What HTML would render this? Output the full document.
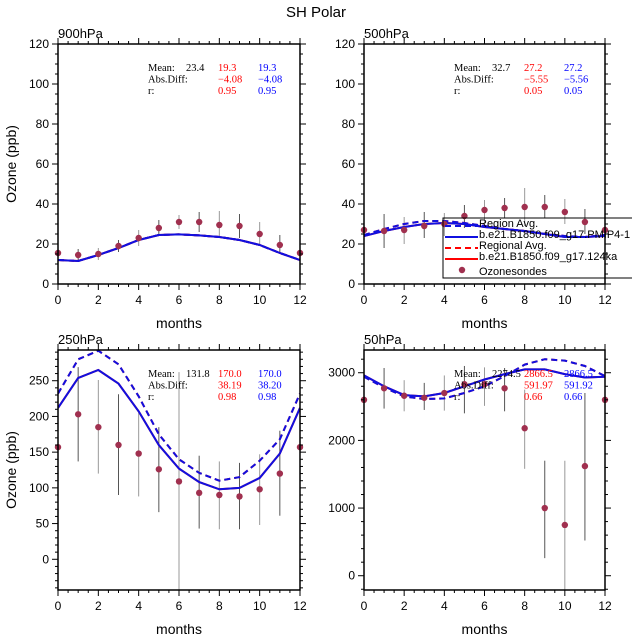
<!DOCTYPE html>
<html><head><meta charset="utf-8">
<style>
html,body{margin:0;padding:0;background:#fff;}
svg{display:block;font-family:"Liberation Sans",sans-serif;}
</style></head>
<body>
<svg id="chart" width="632" height="638" viewBox="0 0 632 638" xmlns="http://www.w3.org/2000/svg">
<text x="316" y="17" text-anchor="middle" font-size="15">SH Polar</text>
</svg>
<script>
const months = [0,1,2,3,4,5,6,7,8,9,10,11,12];
// 900hPa
const obs900 = [15.5,14.5,15,19,23,28,31,31,29.5,29,25,19.5,15.5];
const lo900 = [null,12,12,16,19,24,27.5,26,24,23,19.5,15,null];
const hi900 = [null,17.5,18,22,27,32,34.5,36,36.5,35,31,24.5,null];
const solid900 = [12,11.5,14.5,18,22,24.5,24.8,24.3,23.5,22,19.5,15.5,12];
const dash900 = [12,11.5,14.5,18,22,24.5,24.8,24.3,23.5,22,19.5,15.5,12];
// 500hPa
const obs500 = [27,26.5,27,29,30,34,37,38,38.5,38.5,36,31,27];
const lo500 = [null,18,20,23,24,28,30.5,33,29,33,30,25,null];
const hi500 = [null,35,33.5,36,35.5,39.5,42,43,48,44.5,42.5,37.5,null];
const solid500 = [24,26.5,28.5,30,30.5,30,28.5,27.5,26.5,25,23.5,23.5,24];
const dash500 = [24.5,27.5,30,31.5,31.5,30.5,29,27.5,26.5,25,24,23.5,24.5];
// 250hPa
const obs250 = [157,203,185,160,148,126,109,93,90,88,98,120,157];
const lo250 = [null,137,120,90,88,66,-43,43,42,42,48,61,null];
const hi250 = [null,269,251,231,205,185,262,145,137,135,147,180,null];
const solid250 = [212,254,265,246,207,160,127,108,98,100,114,148,212];
const dash250 = [232,280,292,273,228,175,140,121,110,115,138,168,232];
// 50hPa
const obs50 = [2600,2770,2660,2630,2700,2830,2830,2770,2180,1000,750,1620,2600];
const lo50 = [null,2470,2430,2450,2440,2400,2510,2430,1580,260,-211,520,null];
const hi50 = [null,3070,2890,2850,2960,3100,3080,3070,2750,1700,1700,2700,null];
const solid50 = [2960,2800,2670,2650,2700,2800,2900,2980,3050,3050,2980,2930,2940];
const dash50 = [2940,2780,2650,2610,2620,2700,2800,2950,3120,3200,3180,3100,2950];
const xTicks = [0,2,4,6,8,10,12];
const yTicksTop = [0,20,40,60,80,100,120];
const yTicks250 = [0,50,100,150,200,250];
const yTicks50 = [0,1000,2000,3000];
const stats900 = ["23.4","19.3","19.3","\u22124.08","\u22124.08","0.95","0.95"];
const stats500 = ["32.7","27.2","27.2","\u22125.55","\u22125.56","0.05","0.05"];
const stats250 = ["131.8","170.0","170.0","38.19","38.20","0.98","0.98"];
const stats50 = ["2274.5","2866.5","2866.5","591.97","591.92","0.66","0.66"];

const NS="http://www.w3.org/2000/svg";
const svg=document.getElementById('chart');
function mk(tag,attrs,parent){const e=document.createElementNS(NS,tag);for(const k in attrs)e.setAttribute(k,attrs[k]);(parent||svg).appendChild(e);return e;}
function path(arr,sx,sy){return arr.map((v,i)=>(i?'L':'M')+sx(months[i]).toFixed(1)+','+sy(v).toFixed(1)).join(' ');}

function panel(o){
  const g=mk('g',{});
  
  
  const sx=v=>o.x0+(v-0)/12*(o.x1-o.x0);
  const sy=v=>o.y1-(v-o.ymin)/(o.ymax-o.ymin)*(o.y1-o.y0);
  const clip='clip-'+o.name;
  const cp=mk('clipPath',{id:clip},g);mk('rect',{x:o.x0,y:o.y0,width:o.x1-o.x0,height:o.y1-o.y0},cp);
  const eg=mk('g',{'clip-path':'url(#'+clip+')'},g);
  
  
  o.lo.forEach((l,i)=>{if(l===null)return;
    const b=mk('line',{x1:sx(months[i]),x2:sx(months[i]),y1:sy(l),y2:sy(o.hi[i]),stroke:(i%2?'#555':'#999'),'stroke-width':1},eg);
    
    
  });
  const lg=mk('g',{'clip-path':'url(#'+clip+')'},g);
  const r1=mk('path',{d:path(o.dash,sx,sy),fill:'none',stroke:'#ff0000','stroke-width':2,'stroke-dasharray':'6,4'},lg);
  
  
  const r2=mk('path',{d:path(o.solid,sx,sy),fill:'none',stroke:'#ff0000','stroke-width':2},lg);
  
  
  const b1=mk('path',{d:path(o.dash,sx,sy),fill:'none',stroke:'#1010e0','stroke-width':2,'stroke-dasharray':'6,4'},lg);
  
  
  const b2=mk('path',{d:path(o.solid,sx,sy),fill:'none',stroke:'#1010e0','stroke-width':2},lg);
  
  
  o.obs.forEach((v,i)=>{
    const c=mk('circle',{cx:sx(months[i]),cy:sy(v),r:3.2,fill:'#a0304f'},g);
    
    
  });
  const fr=mk('rect',{x:o.x0,y:o.y0,width:o.x1-o.x0,height:o.y1-o.y0,fill:'none',stroke:'#000','stroke-width':1.5},g);
  
  
  for(let m=0;m<=12;m+=0.5){const maj=(m%2===0);const L=maj?6:3;const X=sx(m);
    mk('line',{x1:X,x2:X,y1:o.y1,y2:o.y1+L,stroke:'#000'},g);
    mk('line',{x1:X,x2:X,y1:o.y0,y2:o.y0-L,stroke:'#000'},g);}
  xTicks.forEach(t=>{const tx=mk('text',{x:sx(t),y:o.y1+20,'text-anchor':'middle','font-size':12},g);tx.textContent=t;
    
    });
  for(let v=Math.ceil(o.ymin/o.minor)*o.minor;v<=o.ymax;v+=o.minor){const maj=(Math.round(v/o.minor)%Math.round(o.major/o.minor)===0);const L=maj?6:3;const Y=sy(v);
    mk('line',{x1:o.x0,x2:o.x0-L,y1:Y,y2:Y,stroke:'#000'},g);
    mk('line',{x1:o.x1,x2:o.x1+L,y1:Y,y2:Y,stroke:'#000'},g);}
  o.yt.forEach(t=>{const tx=mk('text',{x:o.x0-9,y:sy(t)+4,'text-anchor':'end','font-size':12},g);tx.textContent=t;
    
    });
  const tl=mk('text',{x:o.x0,y:o.y0-6,'font-size':13},g);tl.textContent=o.label;
  
  
  const xl=mk('text',{x:(o.x0+o.x1)/2,y:o.y1+44,'text-anchor':'middle','font-size':14},g);xl.textContent='months';
  
  
  if(o.ylab){const yl=mk('text',{x:0,y:0,'text-anchor':'middle','font-size':14,transform:'translate(16,'+((o.y0+o.y1)/2)+') rotate(-90)'},g);yl.textContent='Ozone (ppb)';
    
    }
  const s=o.stats,bx=o.x0+90,by=o.y0+27;
  const sg=mk('g',{'font-family':'"Liberation Serif",serif','font-size':10.5},g);
  
  
  [['Mean:',s[0],s[1],s[2]],['Abs.Diff:','',s[3],s[4]],['r:','',s[5],s[6]]].forEach((row,j)=>{
    const y=by+j*11.5;
    mk('text',{x:bx,y:y},sg).textContent=row[0];
    mk('text',{x:bx+38,y:y},sg).textContent=row[1];
    mk('text',{x:bx+70,y:y,fill:'#ff0000'},sg).textContent=row[2];
    mk('text',{x:bx+110,y:y,fill:'#0000ff'},sg).textContent=row[3];
  });
}
panel({name:'panel-900hpa',label:'900hPa',x0:58,x1:300,y0:44,y1:284,ymin:0,ymax:120,major:20,minor:5,yt:yTicksTop,obs:obs900,lo:lo900,hi:hi900,solid:solid900,dash:dash900,stats:stats900,ylab:true});
panel({name:'panel-500hpa',label:'500hPa',x0:364,x1:605,y0:44,y1:284,ymin:0,ymax:120,major:20,minor:5,yt:yTicksTop,obs:obs500,lo:lo500,hi:hi500,solid:solid500,dash:dash500,stats:stats500,ylab:false});
panel({name:'panel-250hpa',label:'250hPa',x0:58,x1:300,y0:350,y1:590,ymin:-43,ymax:293,major:50,minor:10,yt:yTicks250,obs:obs250,lo:lo250,hi:hi250,solid:solid250,dash:dash250,stats:stats250,ylab:true});
panel({name:'panel-50hpa',label:'50hPa',x0:364,x1:605,y0:350,y1:590,ymin:-211,ymax:3336,major:1000,minor:200,yt:yTicks50,obs:obs50,lo:lo50,hi:hi50,solid:solid50,dash:dash50,stats:stats50,ylab:false});

const lg=mk('g',{});


mk('rect',{x:443,y:218,width:200,height:60,fill:'none',stroke:'#000','stroke-width':1},lg);
const items=[['Region Avg.','#1010e0','6,4',226],['b.e21.B1850.f09_g17.PMIP4-1','#1010e0','',237],['Regional Avg.','#ff0000','6,4',248],['b.e21.B1850.f09_g17.124ka','#ff0000','',259]];
items.forEach(it=>{
  const e=mk('g',{},lg);
  
  
  const a={x1:445,x2:478,y1:it[3],y2:it[3],stroke:it[1],'stroke-width':2};if(it[2])a['stroke-dasharray']=it[2];
  mk('line',a,e);
  mk('text',{x:479,y:it[3]+1,'font-size':11},e).textContent=it[0];
});
const oe=mk('g',{},lg);


mk('circle',{cx:462,cy:270,r:3.2,fill:'#a0304f'},oe);
mk('text',{x:479,y:275,'font-size':11},oe).textContent='Ozonesondes';
</script>
</body></html>
